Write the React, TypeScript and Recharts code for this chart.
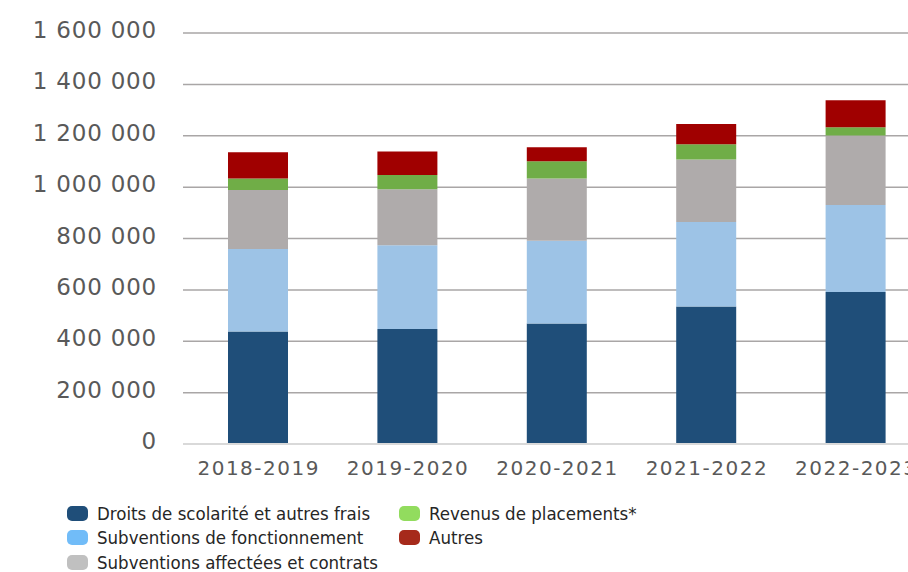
import React from "react";
import { Bar, BarChart, CartesianGrid, Legend, XAxis, YAxis } from "recharts";

const categories = ["2018-2019", "2019-2020", "2020-2021", "2021-2022", "2022-2023"];

const droits = [438000, 448000, 469000, 535000, 592000];
const fonctionnement = [321000, 326000, 322000, 329000, 338000];
const affectees = [230000, 218000, 243000, 244000, 271000];
const placements = [45000, 55000, 67000, 59000, 32000];
const autres = [102000, 92000, 54000, 79000, 105000];

const yTicks = [0, 200000, 400000, 600000, 800000, 1000000, 1200000, 1400000, 1600000];

const seriesKeys = ["droits", "fonctionnement", "affectees", "placements", "autres"];
const seriesNames = [
  "Droits de scolarité et autres frais",
  "Subventions de fonctionnement",
  "Subventions affectées et contrats",
  "Revenus de placements*",
  "Autres",
];
const barColors = ["#1f4e79", "#9dc3e6", "#afabab", "#70ad47", "#a00000"];
const legendColors = ["#1f4e79", "#71bcf8", "#c0c0c0", "#92dc5e", "#a62a1b"];

const data = categories.map((name, i) => ({
  name,
  droits: droits[i],
  fonctionnement: fonctionnement[i],
  affectees: affectees[i],
  placements: placements[i],
  autres: autres[i],
}));

const formatNumber = (v: number) => String(v).replace(/\B(?=(\d{3})+(?!\d))/g, " ");

const YTick = (props: any) => {
  const { x, y, payload } = props;
  return (
    <text
      x={x - 26}
      y={y + 5}
      textAnchor="end"
      fill="#595959"
      fontFamily="'DejaVu Sans', sans-serif"
      fontSize={23}
      letterSpacing={0.8}
    >
      {formatNumber(payload.value)}
    </text>
  );
};

const XTick = (props: any) => {
  const { x, y, payload } = props;
  return (
    <text
      x={x + 1}
      y={y + 31}
      textAnchor="middle"
      fill="#595959"
      fontFamily="'DejaVu Sans', sans-serif"
      fontSize={20}
      letterSpacing={1.5}
    >
      {payload.value}
    </text>
  );
};

const LegendContent = (props: any) => {
  const items = [...(props.payload || [])].sort(
    (a: any, b: any) => seriesKeys.indexOf(a.dataKey) - seriesKeys.indexOf(b.dataKey)
  );
  return (
    <div
      style={{
        display: "grid",
        gridTemplateRows: "repeat(3, 24.5px)",
        gridTemplateColumns: "332px auto",
        gridAutoFlow: "column",
        fontFamily: "'DejaVu Sans Condensed', 'DejaVu Sans', sans-serif",
        fontSize: 18.5,
        color: "#262626",
      }}
    >
      {items.map((entry: any) => {
        const idx = seriesKeys.indexOf(entry.dataKey);
        return (
          <div key={entry.value} style={{ display: "flex", alignItems: "center" }}>
            <span
              style={{
                display: "inline-block",
                width: 21,
                height: 15,
                borderRadius: 5,
                background: legendColors[idx],
                marginRight: 9,
              }}
            />
            <span style={{ whiteSpace: "nowrap" }}>{entry.value}</span>
          </div>
        );
      })}
    </div>
  );
};

export default function App() {
  return (
    <div
      style={{
        position: "absolute",
        left: 0,
        top: 0,
        width: 908,
        height: 572,
        overflow: "hidden",
        background: "#ffffff",
      }}
    >
      <BarChart
        width={934}
        height={572}
        data={data}
        margin={{ top: 33, right: 4, bottom: 72, left: 0 }}
        barSize={60}
      >
        <CartesianGrid vertical={false} stroke="#a9a6a6" strokeWidth={1.5} />
        <XAxis
          dataKey="name"
          height={56}
          tickLine={false}
          tickSize={0}
          tickMargin={0}
          axisLine={{ stroke: "#d9d9d9", strokeWidth: 2 }}
          tick={<XTick />}
          interval={0}
        />
        <YAxis
          width={183}
          domain={[0, 1600000]}
          ticks={yTicks}
          tickLine={false}
          tickSize={0}
          tickMargin={0}
          axisLine={false}
          tick={<YTick />}
          interval={0}
        />
        <Legend
          layout="horizontal"
          verticalAlign="middle"
          align="center"
          itemSorter={null}
          wrapperStyle={{ left: 67, top: 501, width: 800, height: 74 }}
          content={<LegendContent />}
        />
        {seriesKeys.map((key, i) => (
          <Bar
            key={key}
            dataKey={key}
            name={seriesNames[i]}
            stackId="a"
            fill={barColors[i]}
            isAnimationActive={false}
          />
        ))}
      </BarChart>
    </div>
  );
}
